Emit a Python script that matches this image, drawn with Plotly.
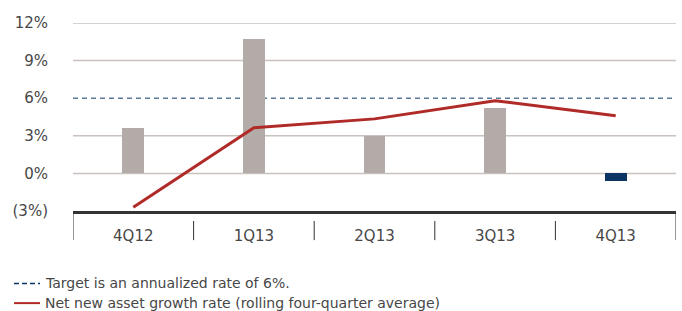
import plotly.graph_objects as go

categories = ["4Q12", "1Q13", "2Q13", "3Q13", "4Q13"]
bar_values = [3.6, 10.7, 3.0, 5.2, -0.6]
line_values = [-2.7, 3.65, 4.35, 5.8, 4.6]
target_value = 6
grid_values = [0, 3, 9, 12]
y_ticks = [-3, 0, 3, 6, 9, 12]
y_tick_labels = ["(3%)", "0%", "3%", "6%", "9%", "12%"]
legend_labels = ["Target is an annualized rate of 6%.",
                 "Net new asset growth rate (rolling four-quarter average)"]

BAR_GRAY = "#b3aba7"
NAVY = "#0b3564"
RED = "#b02a28"
DASH_BLUE = "#5d7b99"
GRID = "#c9c2be"
TEXT = "#474747"
FONT = "DejaVu Sans"

bar_colors = [NAVY if v < 0 else BAR_GRAY for v in bar_values]

fig = go.Figure()
fig.add_trace(go.Bar(x=categories, y=bar_values, marker=dict(color=bar_colors, line=dict(width=0)),
                     width=0.18, showlegend=False, hoverinfo="skip"))
fig.add_trace(go.Scatter(x=categories, y=line_values, mode="lines",
                         line=dict(color=RED, width=3), showlegend=False, hoverinfo="skip"))

shapes = []
for g in grid_values:
    shapes.append(dict(type="line", xref="paper", yref="y", x0=0, x1=1, y0=g, y1=g,
                       line=dict(color=GRID, width=1.5), layer="below"))
shapes.append(dict(type="line", xref="paper", yref="y", x0=0, x1=1, y0=target_value, y1=target_value,
                   line=dict(color=DASH_BLUE, width=1.5, dash="5px,4px"), layer="below"))
# category box below axis
n = len(categories)
for i in range(1, n):
    shapes.append(dict(type="line", xref="x", yref="paper", x0=i - 0.5, x1=i - 0.5, y0=-0.053, y1=-0.155,
                       line=dict(color="#333333", width=1)))
for xb in (-0.5, n - 0.5):
    shapes.append(dict(type="line", xref="x", yref="paper", x0=xb, x1=xb, y0=0, y1=-0.155,
                       line=dict(color="#333333", width=1)))
# legend glyphs
shapes.append(dict(type="line", xref="paper", yref="paper", x0=-0.0978, x1=-0.0547, y0=-0.385, y1=-0.385,
                   line=dict(color=NAVY, width=1.5, dash="5px,3px")))
shapes.append(dict(type="line", xref="paper", yref="paper", x0=-0.0978, x1=-0.0547, y0=-0.49, y1=-0.49,
                   line=dict(color=RED, width=2)))

annotations = []
for lbl, yy in zip(legend_labels, [-0.383, -0.488]):
    annotations.append(dict(text=lbl, xref="paper", yref="paper", x=-0.049, y=yy, xanchor="left",
                            yanchor="middle", showarrow=False, font=dict(family=FONT, size=14, color=TEXT)))

fig.update_layout(
    width=682, height=311,
    margin=dict(l=73, r=6, t=23, b=100, autoexpand=False),
    paper_bgcolor="white", plot_bgcolor="white",
    shapes=shapes, annotations=annotations,
    bargap=0,
    xaxis=dict(range=[-0.5, n - 0.5], showgrid=False, showline=True, linecolor="#333333", linewidth=3,
               ticks="outside", ticklen=9, tickcolor="rgba(0,0,0,0)", automargin=False,
               tickfont=dict(family=FONT, size=15, color=TEXT), fixedrange=True),
    yaxis=dict(range=[-3, 12], tickvals=y_ticks, ticktext=y_tick_labels, showgrid=False, zeroline=False,
               showline=False, ticks="outside", ticklen=21, tickcolor="rgba(0,0,0,0)", automargin=False,
               tickfont=dict(family=FONT, size=15, color=TEXT), fixedrange=True),
)

fig.write_html("out.html", config={"displayModeBar": False},
               post_script="document.body.style.margin='0';document.body.style.overflow='hidden';")
